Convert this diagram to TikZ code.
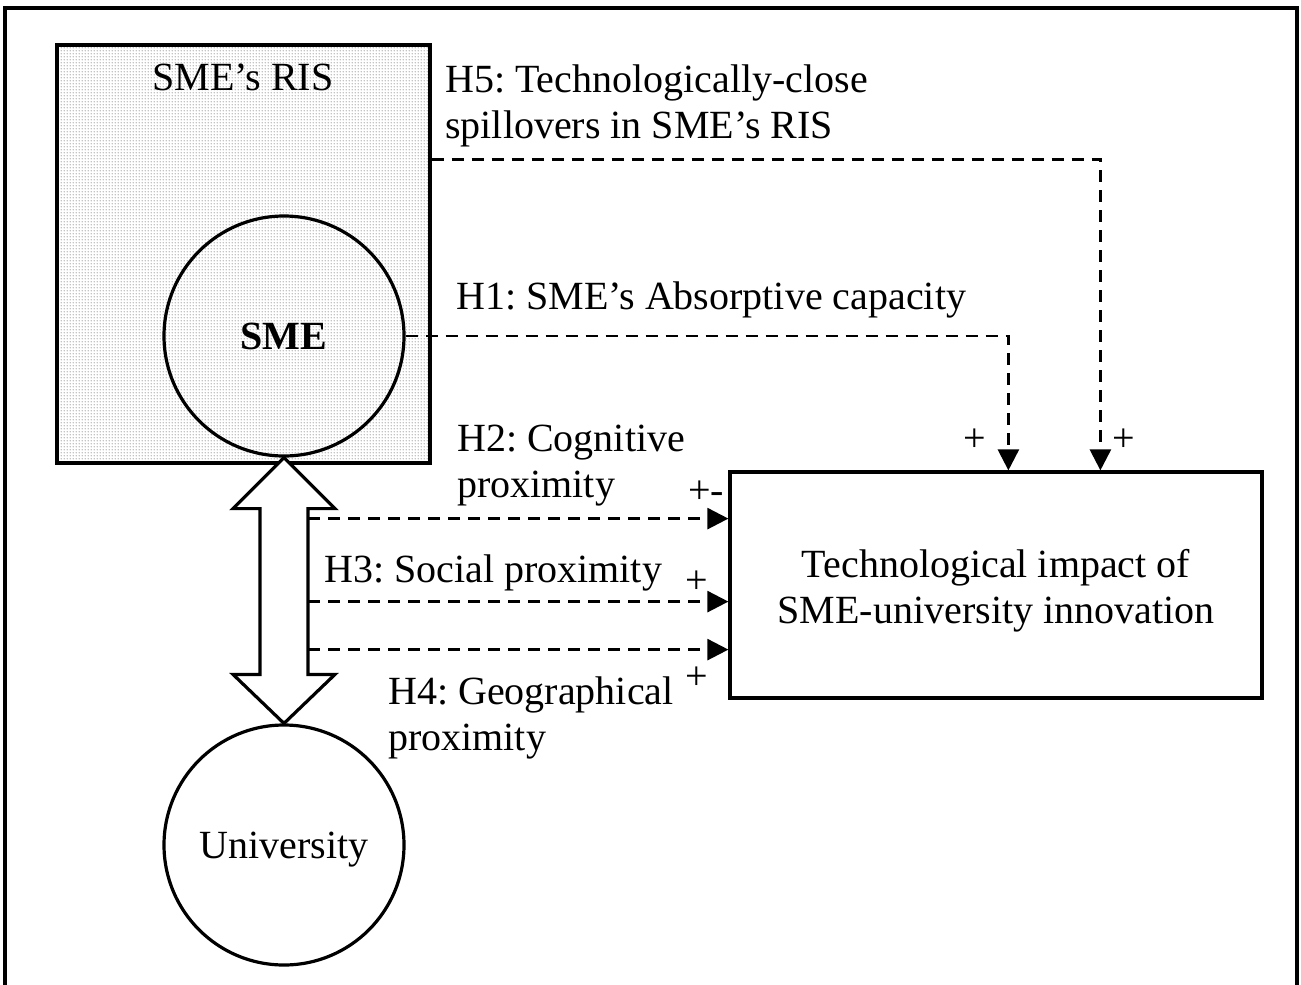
\documentclass[tikz,border=0pt]{standalone}
\usepackage{fontspec}
\setmainfont{Liberation Serif}
\usetikzlibrary{arrows.meta,patterns.meta,calc}

% fine regular dot screen for the regional system
\tikzdeclarepattern{
  name=finedots, type=uncolored,
  bounding box={(0pt,0pt) and (3pt,3pt)},
  tile size={(3pt,3pt)},
  code={\pgfpathcircle{\pgfpoint{1.5pt}{1.5pt}}{0.55pt}\pgfusepath{fill}}
}

\begin{document}
\frenchspacing
\begin{tikzpicture}[x=1pt,y=-1pt,
  every node/.style={font=\fontsize{40}{46}\selectfont, inner sep=0pt},
  lbl/.style={anchor=base west, align=left},
  hyp/.style={line width=2.6pt, dash pattern=on 12pt off 8pt,
    -{Triangle[length=21pt,width=21pt]}},
  outline/.style={draw, line width=3.2pt},
  frameline/.style={line width=3.8pt},
  ]
\useasboundingbox (0,0) rectangle (1301,985);

% open outer frame
\draw[frameline] (5,985) -- (5,8) -- (1297,8) -- (1297,985);

% regional innovation system with the firm inside
\node[outline, pattern={finedots}, pattern color=black, minimum width=373pt, minimum height=418pt] (ris) at (243.5,254) {};
\node[anchor=base] (rislbl) at (243,90) {SME’s RIS};
\node[outline, circle, minimum size=240pt] (sme) at (284,336) {\textbf{SME}};

% university and the target construct
\node[outline, circle, minimum size=240pt, text depth=0pt] (uni) at (284,845) {University};
\node[outline, minimum width=532pt, minimum height=226pt] (tgt) at (996,585) {};
\node[align=center] (tgttext) at ($(tgt.center)+(0,6)$)
  {Technological impact of\\SME-university innovation};

% two-headed link between SME and university
\draw[line width=3.2pt, fill=white, line join=miter]
  (sme.south) -- ++(51,51) -- ++(-27,0) -- ($(uni.north)+(24,-49)$) -- ++(27,0)
  -- (uni.north) -- ++(-51,-49) -- ++(27,0) -- ($(sme.south)+(-24,51)$) -- ++(-27,0) -- cycle;

% start points of the proximity effects on the link shaft
\coordinate (s2) at ($(sme.south)+(24,61)$);
\coordinate (s3) at ($(sme.south)+(24,144)$);
\coordinate (s4) at ($(sme.south)+(24,192)$);

% hypothesised effects
\draw[hyp] ($(ris.north east)!0.275!(ris.south east)$) -| ($(tgt.north west)+(372,0)$);
\draw[hyp] (sme.east) -| ($(tgt.north west)+(280,0)$);
\draw[hyp] (s2) -- (s2 -| tgt.west);
\draw[hyp] (s3) -- (s3 -| tgt.west);
\draw[hyp] (s4) -- (s4 -| tgt.west);

% hypothesis labels (base anchor sits on the last line)
\node[lbl] (h5) at (445,138) {H5: Technologically-close\\spillovers in SME’s RIS};
\node[lbl] (h1) at (456,309) {H1: SME’s Absorptive capacity};
\node[lbl] (h2) at (457,497) {H2: Cognitive\\proximity};
\node[lbl] (h3) at (324,582) {H3: Social proximity};
\node[lbl] (h4) at (388,750) {H4: Geographical\\proximity};

% expected signs
\node (p1) at (975,440) {+};
\node (p5) at (1124,440) {+};
\node (p2) at (706,492) {+-};
\node (p3) at (697,582) {+};
\node (p4) at (697,678) {+};
\end{tikzpicture}
\end{document}
